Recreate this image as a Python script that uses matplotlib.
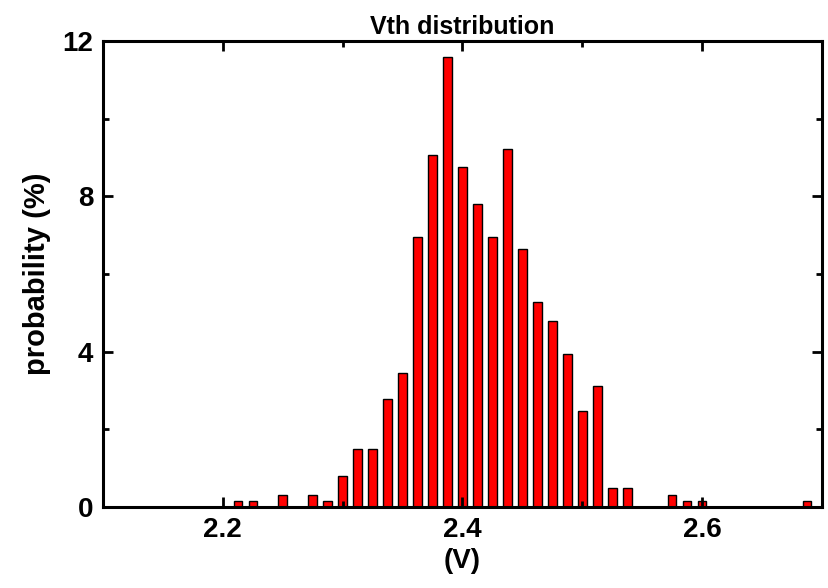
import matplotlib.pyplot as plt
import numpy as np
from matplotlib.ticker import MultipleLocator

plt.rcParams['font.family'] = ['Liberation Sans', 'DejaVu Sans']
plt.rcParams['font.weight'] = 'bold'

# Bin centres (V) and probability (%)
vth = [2.2125, 2.225, 2.25, 2.275, 2.2875, 2.3, 2.3125, 2.325, 2.3375,
       2.35, 2.3625, 2.375, 2.3875, 2.4, 2.4125, 2.425, 2.4375, 2.45,
       2.4625, 2.475, 2.4875, 2.5, 2.5125, 2.525, 2.5375, 2.575, 2.5875,
       2.6, 2.6875]
prob = [0.15, 0.15, 0.31, 0.31, 0.15, 0.8, 1.5, 1.5, 2.78,
        3.45, 6.96, 9.06, 11.6, 8.75, 7.8, 6.96, 9.22, 6.64,
        5.27, 4.79, 3.95, 2.48, 3.12, 0.49, 0.49, 0.31, 0.15,
        0.15, 0.15]

fig = plt.figure(figsize=(8.29, 5.88), dpi=100)
ax = fig.add_axes([0.1242, 0.1378, 0.8674, 0.7925])

ax.bar(vth, prob, width=0.0071, color='#ff0000', edgecolor='black', linewidth=1.0)

ax.set_xlim(2.1, 2.7)
ax.set_ylim(0, 12)
ax.xaxis.set_minor_locator(MultipleLocator(0.1))
ax.yaxis.set_major_locator(MultipleLocator(4))
ax.yaxis.set_minor_locator(MultipleLocator(2))
ax.set_xticks([2.2, 2.4, 2.6])
ax.set_xticklabels(['2.2', '2.4', '2.6'])

ax.tick_params(which='both', direction='in', top=True, right=True, width=2)
ax.tick_params(which='major', length=7, labelsize=20, pad=7)
ax.tick_params(which='minor', length=4)
for s in ax.spines.values():
    s.set_linewidth(2.2)

ax.set_title('Vth distribution', fontsize=18, fontweight='bold', pad=5)
ax.set_xlabel('(V)', fontsize=20, fontweight='bold', labelpad=4)
ax.set_ylabel('probability (%)', fontsize=21, fontweight='bold', labelpad=8)

fig.savefig('out.png', dpi=100)
